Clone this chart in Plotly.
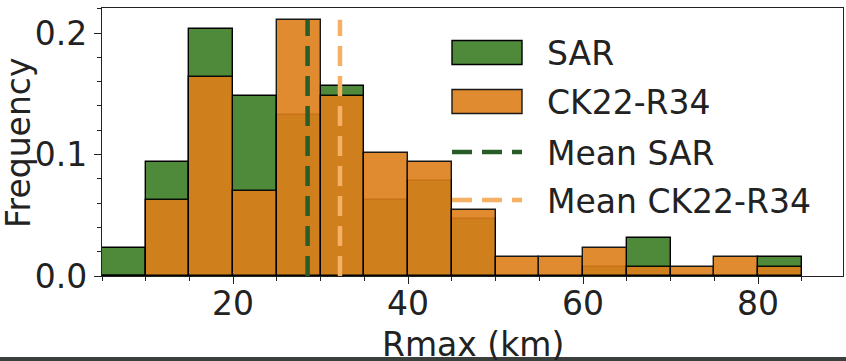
import plotly.graph_objects as go

# ---- data ----
bin_centers = [7.5, 12.5, 17.5, 22.5, 27.5, 32.5, 37.5, 42.5,
               47.5, 52.5, 57.5, 62.5, 67.5, 72.5, 77.5, 82.5]
bin_width = 5
freq_sar = [0.0234, 0.0938, 0.2031, 0.1484, 0.1328, 0.1563, 0.0625, 0.0781,
            0.0469, 0.0, 0.0, 0.0078, 0.0313, 0.0, 0.0, 0.0156]
freq_ck22 = [0.0, 0.0625, 0.1641, 0.0703, 0.2109, 0.1484, 0.1016, 0.0938,
             0.0547, 0.0156, 0.0156, 0.0234, 0.0078, 0.0078, 0.0156, 0.0078]
mean_sar = 28.5
mean_ck22 = 32.2
x_ticks = [20, 40, 60, 80]
y_ticks = [0.0, 0.1, 0.2]

GREEN = "rgb(78,138,58)"
ORANGE = "rgb(222,127,26)"
MEAN_GREEN = "rgb(40,92,40)"
MEAN_ORANGE = "rgb(245,176,100)"
FONT = "DejaVu Sans"
FS = 33
TXT = "#222222"

fig = go.Figure()
fig.add_trace(go.Bar(x=bin_centers, y=freq_sar, width=bin_width, name="SAR",
                     marker=dict(color=GREEN, line=dict(color="black", width=1.4))))
fig.add_trace(go.Bar(x=bin_centers, y=freq_ck22, width=bin_width, name="CK22-R34",
                     opacity=0.9,
                     marker=dict(color=ORANGE, line=dict(color="black", width=1.4))))
ytop = max(max(freq_sar), max(freq_ck22))
fig.add_trace(go.Scatter(x=[mean_sar, mean_sar], y=[0, ytop], mode="lines", name="Mean SAR",
                         line=dict(color=MEAN_GREEN, width=4.5, dash="20px,10px")))
fig.add_trace(go.Scatter(x=[mean_ck22, mean_ck22], y=[0, ytop], mode="lines", name="Mean CK22-R34",
                         line=dict(color=MEAN_ORANGE, width=4.5, dash="20px,10px")))

# ---- manual legend (paper coords; plot area = paper [0,1]) ----
W, H = 741.0, 268.0  # plot area pixel size
def px(xp):
    return (xp - 102) / W
def py(yp):
    return (276 - yp) / H

shapes = []
annotations = []
legend_items = [
    ("SAR", "patch", GREEN, 52.5),
    ("CK22-R34", "patch", ORANGE, 101.5),
    ("Mean SAR", "line", MEAN_GREEN, 152),
    ("Mean CK22-R34", "line", MEAN_ORANGE, 200),
]
for label, kind, col, yc in legend_items:
    if kind == "patch":
        shapes.append(dict(type="rect", xref="paper", yref="paper",
                           x0=px(452), x1=px(522), y0=py(yc + 12), y1=py(yc - 12),
                           fillcolor=col, line=dict(color="black", width=1.4),
                           opacity=0.9 if col == ORANGE else 1.0))
    else:
        shapes.append(dict(type="line", xref="paper", yref="paper",
                           x0=px(452), x1=px(522), y0=py(yc), y1=py(yc),
                           line=dict(color=col, width=4.5, dash="20px,10px")))
    annotations.append(dict(text=label, xref="paper", yref="paper",
                            x=px(545), y=py(yc + 1), xanchor="left", yanchor="middle",
                            showarrow=False, font=dict(family=FONT, size=FS, color=TXT)))

# x tick labels placed on the x data scale
for v in x_ticks:
    annotations.append(dict(text=str(v), xref="x", yref="paper",
                            x=v, y=py(303), xanchor="center", yanchor="middle",
                            showarrow=False, font=dict(family=FONT, size=FS, color=TXT)))

# axis titles as annotations
annotations.append(dict(text="Rmax (km)", xref="paper", yref="paper",
                        x=px(473), y=py(344), xanchor="center", yanchor="middle",
                        showarrow=False, font=dict(family=FONT, size=FS, color=TXT)))
annotations.append(dict(text="Frequency", xref="paper", yref="paper",
                        x=px(18), y=py(143), xanchor="center", yanchor="middle", textangle=-90,
                        showarrow=False, font=dict(family=FONT, size=FS, color=TXT)))

# bottom dark band (image border in reference)
shapes.append(dict(type="rect", xref="paper", yref="paper",
                   x0=px(-5), x1=px(850), y0=py(362), y1=py(357),
                   fillcolor="rgb(60,64,60)", line=dict(width=0), layer="above"))

fig.update_layout(
    width=846, height=361,
    margin=dict(l=102, r=3, t=8, b=85, autoexpand=False),
    paper_bgcolor="white", plot_bgcolor="white",
    barmode="overlay", bargap=0,
    showlegend=False,
    font=dict(family=FONT, size=FS, color=TXT),
    shapes=shapes, annotations=annotations,
)
fig.update_xaxes(
    automargin=False,
    range=[5, 89.7], tickvals=x_ticks, showticklabels=False,
    ticks="outside", ticklen=7, tickwidth=1.3, tickcolor="#222",
    minor=dict(dtick=5, tick0=0, ticks="outside", ticklen=4, tickwidth=1.1, tickcolor="#222"),
    showline=True, linecolor="#222", linewidth=1.3, mirror=True,
    showgrid=False, zeroline=False,
)
fig.update_yaxes(
    automargin=False,
    range=[0, 0.2206], tickvals=y_ticks, ticktext=["%.1f" % v for v in y_ticks],
    ticks="outside", ticklen=7, tickwidth=1.3, tickcolor="#222",
    minor=dict(dtick=0.02, tick0=0, ticks="outside", ticklen=4, tickwidth=1.1, tickcolor="#222"),
    showline=True, linecolor="#222", linewidth=1.3, mirror=True,
    showgrid=False, zeroline=False,
    tickfont=dict(family=FONT, size=FS, color=TXT),
)

fig.write_html("out.html", config={"displayModeBar": False},
               post_script="document.body.style.margin='0px';")
